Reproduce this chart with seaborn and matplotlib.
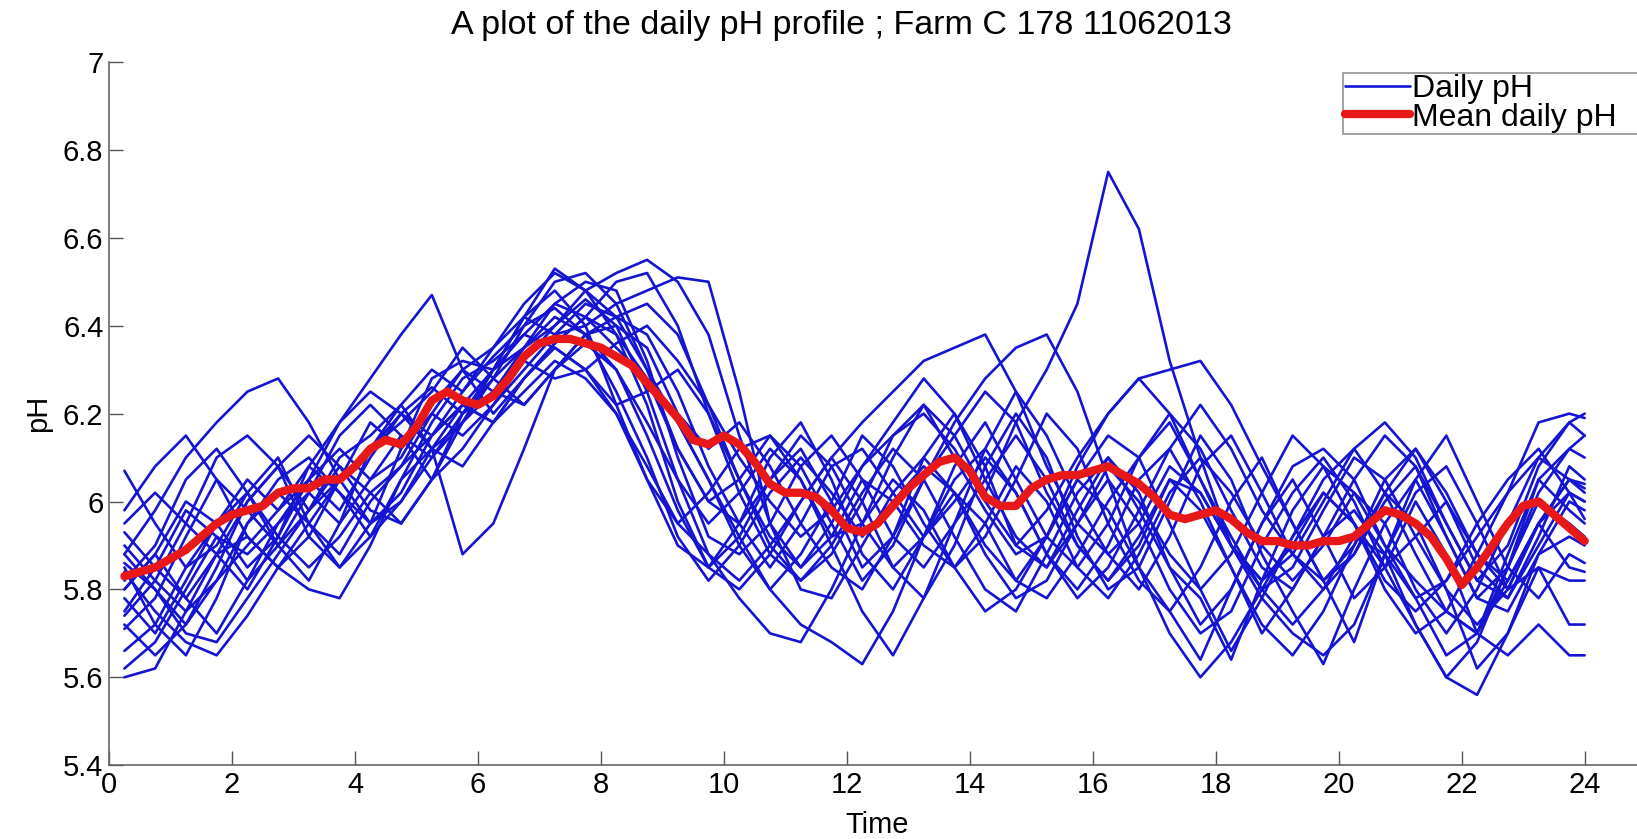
import numpy as np
import pandas as pd
import matplotlib
matplotlib.use("Agg")
import matplotlib.pyplot as plt
from matplotlib.lines import Line2D
import seaborn as sns

# Sampling grid of the daily records (hours)
hours = np.append(np.arange(0.25, 24.0, 0.5), 24.0)

# Daily pH records, one list per day
day01 = [5.60, 5.62, 5.75, 5.88, 5.80, 5.92, 6.05, 5.98, 6.10, 6.20, 6.15, 6.25, 6.33, 6.40, 6.44, 6.38, 6.30, 6.15, 5.98, 5.85, 5.92, 6.05, 6.12, 6.00, 5.85, 5.92, 6.10, 6.20, 6.08, 5.90, 5.85, 5.98, 6.10, 6.02, 5.85, 5.72, 5.80, 5.95, 6.05, 5.92, 5.78, 5.85, 6.00, 5.88, 5.70, 5.85, 6.05, 6.12, 6.10]
day02 = [6.07, 5.95, 5.85, 5.90, 6.02, 6.10, 5.95, 5.88, 6.00, 6.08, 6.20, 6.30, 6.25, 6.35, 6.45, 6.50, 6.48, 6.32, 6.10, 5.92, 5.88, 5.95, 6.08, 6.15, 6.05, 5.92, 5.85, 5.95, 6.12, 6.25, 6.15, 6.00, 5.88, 5.80, 5.92, 6.08, 6.15, 6.02, 5.88, 5.80, 5.88, 6.02, 6.12, 6.00, 5.85, 5.78, 5.92, 6.08, 6.05]
day03 = [5.85, 5.72, 5.65, 5.78, 5.95, 6.05, 6.10, 6.02, 5.95, 6.02, 6.15, 6.22, 6.18, 6.28, 6.36, 6.42, 6.50, 6.52, 6.40, 6.20, 6.02, 5.88, 5.82, 5.90, 6.02, 6.12, 6.05, 5.92, 5.80, 5.75, 5.88, 6.02, 6.10, 5.98, 5.85, 5.78, 5.64, 5.82, 5.98, 6.08, 6.02, 5.90, 5.78, 5.65, 5.70, 5.88, 6.05, 5.98, 5.95]
day04 = [5.74, 5.82, 5.95, 6.10, 6.15, 6.08, 5.92, 5.85, 5.95, 6.12, 6.20, 6.15, 6.22, 6.30, 6.38, 6.45, 6.42, 6.30, 6.18, 6.05, 5.92, 5.80, 5.88, 6.00, 6.15, 6.08, 5.95, 5.85, 5.92, 6.05, 6.20, 6.12, 5.95, 5.82, 5.75, 5.85, 6.00, 6.10, 5.95, 5.82, 5.68, 5.88, 6.05, 6.15, 6.00, 5.85, 5.78, 5.88, 5.86]
day05 = [5.82, 5.90, 6.05, 6.12, 6.02, 5.90, 5.82, 5.95, 6.12, 6.22, 6.30, 6.25, 6.35, 6.45, 6.52, 6.48, 6.38, 6.22, 6.00, 5.85, 5.80, 5.88, 6.00, 6.10, 6.00, 5.85, 5.78, 5.90, 6.08, 6.20, 6.10, 5.92, 5.80, 5.85, 6.00, 6.15, 6.05, 5.88, 5.75, 5.63, 5.80, 5.95, 6.05, 5.92, 5.78, 5.85, 6.02, 6.12, 6.15]
day06 = [5.88, 5.98, 6.10, 6.18, 6.25, 6.28, 6.18, 6.05, 5.95, 6.00, 6.10, 6.18, 6.25, 6.22, 6.30, 6.38, 6.40, 6.35, 6.20, 6.12, 6.18, 6.08, 5.95, 5.85, 5.80, 5.92, 6.05, 6.15, 6.25, 6.18, 6.02, 5.90, 5.82, 5.92, 6.05, 6.02, 5.90, 5.80, 5.85, 5.98, 6.10, 6.05, 5.92, 5.80, 5.72, 5.80, 5.95, 6.05, 6.02]
day07 = [5.95, 6.02, 5.95, 5.88, 5.92, 5.85, 5.80, 5.78, 5.90, 6.05, 6.18, 6.28, 6.32, 6.38, 6.35, 6.30, 6.22, 6.25, 6.30, 6.20, 6.05, 5.90, 5.82, 5.88, 6.00, 6.15, 6.22, 6.10, 5.98, 5.88, 5.92, 6.05, 6.15, 6.10, 5.95, 5.80, 5.66, 5.78, 5.92, 6.05, 6.12, 6.02, 5.88, 5.75, 5.70, 5.82, 5.95, 5.85, 5.84]
day08 = [5.78, 5.70, 5.82, 5.95, 6.05, 5.98, 6.05, 6.18, 6.28, 6.38, 6.47, 6.30, 6.20, 6.28, 6.35, 6.30, 6.20, 6.05, 5.90, 5.85, 5.95, 6.10, 6.18, 6.05, 5.88, 5.80, 5.92, 6.08, 6.18, 6.05, 5.92, 5.85, 5.95, 6.10, 6.20, 6.12, 5.98, 5.85, 5.80, 5.92, 6.05, 6.15, 6.08, 5.92, 5.78, 5.75, 5.88, 6.00, 5.98]
day09 = [5.71, 5.78, 5.92, 6.05, 5.98, 5.90, 5.98, 6.10, 6.15, 6.22, 6.12, 5.88, 5.95, 6.12, 6.30, 6.38, 6.42, 6.38, 6.25, 6.08, 5.95, 5.85, 5.95, 6.08, 6.12, 6.02, 5.92, 6.00, 6.10, 6.02, 5.88, 5.80, 5.90, 6.05, 6.12, 6.00, 5.85, 5.72, 5.65, 5.75, 5.90, 6.02, 5.95, 5.80, 5.62, 5.70, 5.88, 5.92, 5.90]
day10 = [5.80, 5.88, 5.78, 5.70, 5.82, 5.95, 6.02, 5.95, 6.05, 6.15, 6.10, 6.20, 6.28, 6.35, 6.40, 6.48, 6.52, 6.55, 6.50, 6.38, 6.15, 5.95, 5.80, 5.78, 5.90, 6.02, 6.10, 6.02, 5.88, 5.78, 5.82, 5.95, 6.05, 5.95, 5.80, 5.70, 5.75, 5.90, 6.02, 6.10, 6.00, 5.85, 5.72, 5.60, 5.68, 5.85, 6.00, 5.95, 5.92]
day11 = [5.62, 5.68, 5.80, 5.92, 5.88, 5.95, 6.05, 6.12, 6.05, 6.10, 6.22, 6.30, 6.35, 6.42, 6.38, 6.40, 6.45, 6.48, 6.51, 6.50, 6.25, 5.95, 5.85, 5.92, 6.05, 6.00, 5.90, 5.85, 5.95, 6.08, 6.00, 5.85, 5.78, 5.88, 6.02, 6.10, 6.02, 5.90, 5.82, 5.90, 6.02, 5.95, 5.80, 5.70, 5.80, 5.95, 6.10, 6.18, 6.20]
day12 = [5.98, 6.08, 6.15, 6.05, 5.92, 5.85, 5.92, 6.05, 6.12, 6.18, 6.25, 6.35, 6.28, 6.22, 6.30, 6.36, 6.30, 6.18, 6.05, 5.95, 6.02, 6.12, 6.05, 5.90, 5.75, 5.65, 5.78, 5.95, 6.05, 6.15, 6.05, 5.90, 5.82, 5.90, 6.05, 5.98, 5.85, 5.70, 5.80, 5.92, 5.98, 5.88, 5.78, 5.82, 5.95, 6.05, 6.12, 6.02, 6.00]
day13 = [5.86, 5.80, 5.70, 5.68, 5.78, 5.88, 5.98, 6.08, 6.02, 5.95, 6.05, 6.20, 6.30, 6.38, 6.45, 6.42, 6.35, 6.28, 6.18, 6.05, 5.90, 5.80, 5.72, 5.68, 5.63, 5.75, 5.92, 6.05, 6.12, 6.02, 5.88, 5.78, 5.85, 5.98, 6.12, 6.22, 6.12, 5.98, 5.88, 5.82, 5.90, 6.05, 6.12, 6.02, 5.88, 5.82, 5.95, 6.05, 6.04]
day14 = [5.75, 5.85, 5.98, 5.92, 5.82, 5.90, 6.02, 6.15, 6.22, 6.15, 6.05, 6.12, 6.22, 6.32, 6.40, 6.46, 6.40, 6.25, 6.05, 5.88, 5.82, 5.90, 6.00, 6.10, 6.18, 6.25, 6.32, 6.35, 6.38, 6.25, 6.08, 5.95, 5.88, 5.95, 6.08, 6.02, 5.90, 5.82, 5.88, 6.00, 6.12, 6.18, 6.10, 5.95, 5.82, 5.78, 5.90, 6.02, 5.96]
day15 = [5.90, 5.82, 5.75, 5.82, 5.95, 6.02, 5.95, 5.85, 5.92, 6.05, 6.12, 6.22, 6.18, 6.28, 6.36, 6.42, 6.38, 6.28, 6.12, 6.00, 6.05, 6.15, 6.08, 5.95, 5.82, 5.90, 6.05, 6.18, 6.28, 6.35, 6.38, 6.25, 6.05, 5.85, 5.70, 5.60, 5.68, 5.80, 5.92, 6.02, 5.95, 5.80, 5.70, 5.75, 5.88, 6.02, 6.10, 6.05, 6.03]
day16 = [5.93, 5.85, 5.78, 5.88, 6.00, 6.08, 6.15, 6.08, 5.98, 5.95, 6.05, 6.18, 6.28, 6.40, 6.50, 6.52, 6.45, 6.30, 6.12, 6.00, 5.95, 6.05, 6.15, 6.08, 5.95, 5.85, 5.92, 6.02, 5.95, 5.82, 5.78, 5.88, 6.00, 6.10, 6.18, 6.05, 5.92, 5.80, 5.72, 5.80, 5.92, 5.88, 5.72, 5.60, 5.56, 5.70, 5.85, 5.72, 5.72]
day17 = [5.84, 5.75, 5.68, 5.65, 5.74, 5.85, 5.95, 6.05, 6.12, 6.20, 6.26, 6.20, 6.25, 6.32, 6.28, 6.30, 6.36, 6.40, 6.32, 6.22, 6.10, 6.00, 5.92, 5.98, 6.08, 6.15, 6.20, 6.12, 6.00, 5.90, 5.98, 6.10, 6.20, 6.28, 6.20, 6.05, 5.90, 5.78, 5.70, 5.65, 5.72, 5.88, 6.02, 6.08, 5.95, 5.80, 5.85, 5.82, 5.82]
day18 = [5.66, 5.72, 5.85, 5.95, 6.02, 5.92, 5.85, 5.92, 6.02, 6.08, 6.15, 6.22, 6.30, 6.35, 6.42, 6.38, 6.25, 6.10, 5.92, 5.82, 5.90, 6.02, 6.10, 6.02, 5.92, 6.00, 6.08, 6.02, 5.90, 5.82, 5.92, 6.08, 6.20, 6.28, 6.30, 6.32, 6.22, 6.08, 5.95, 5.82, 5.88, 6.00, 6.08, 5.95, 5.82, 5.90, 6.08, 6.18, 6.15]
day19 = [5.72, 5.65, 5.72, 5.82, 5.90, 5.98, 6.08, 6.02, 5.92, 6.00, 6.12, 6.08, 6.18, 6.25, 6.32, 6.28, 6.20, 6.08, 5.95, 5.88, 5.78, 5.70, 5.68, 5.80, 5.95, 6.05, 5.98, 5.85, 5.75, 5.80, 5.92, 6.05, 5.98, 5.85, 5.75, 5.64, 5.80, 5.95, 6.08, 6.12, 6.05, 5.90, 5.82, 5.75, 5.70, 5.65, 5.72, 5.65, 5.65]
day20 = [5.80, 5.88, 6.00, 5.95, 5.85, 5.92, 6.08, 6.18, 6.25, 6.20, 6.12, 6.18, 6.30, 6.42, 6.53, 6.48, 6.42, 6.45, 6.38, 6.22, 6.05, 5.92, 5.85, 5.95, 6.08, 6.18, 6.28, 6.20, 6.05, 5.92, 5.85, 5.95, 6.08, 6.00, 5.88, 5.80, 5.88, 6.02, 6.15, 6.08, 5.95, 5.82, 5.75, 5.82, 5.92, 6.02, 6.18, 6.20, 6.19]
day21 = [5.88, 5.80, 5.72, 5.85, 6.00, 6.08, 5.98, 6.05, 6.18, 6.12, 6.28, 6.32, 6.30, 6.42, 6.48, 6.40, 6.22, 6.05, 5.95, 6.02, 6.12, 6.15, 6.05, 5.92, 5.95, 6.10, 6.22, 6.15, 6.02, 6.18, 6.30, 6.45, 6.75, 6.62, 6.32, 6.10, 5.90, 5.82, 5.90, 6.02, 5.95, 5.85, 5.92, 6.00, 5.88, 5.80, 5.95, 6.02, 6.00]

daily_records = [day01, day02, day03, day04, day05, day06, day07, day08, day09, day10,
                 day11, day12, day13, day14, day15, day16, day17, day18, day19, day20, day21]

# Smoothed mean daily profile
mean_hours = np.arange(0.25, 24.01, 0.25)
mean_ph = [5.83, 5.84, 5.85, 5.87, 5.89, 5.92, 5.95, 5.97, 5.98, 5.99, 6.02, 6.03,
           6.03, 6.05, 6.05, 6.08, 6.12, 6.14, 6.13, 6.17, 6.23, 6.25, 6.23, 6.22,
           6.24, 6.28, 6.33, 6.36, 6.37, 6.37, 6.36, 6.35, 6.33, 6.31, 6.27, 6.23,
           6.19, 6.14, 6.13, 6.15, 6.13, 6.09, 6.04, 6.02, 6.02, 6.01, 5.98, 5.94,
           5.93, 5.95, 5.99, 6.03, 6.06, 6.09, 6.10, 6.07, 6.01, 5.99, 5.99, 6.03,
           6.05, 6.06, 6.06, 6.07, 6.08, 6.06, 6.04, 6.01, 5.97, 5.96, 5.97, 5.98,
           5.96, 5.93, 5.91, 5.91, 5.90, 5.90, 5.91, 5.91, 5.92, 5.95, 5.98, 5.97,
           5.95, 5.92, 5.87, 5.81, 5.85, 5.90, 5.95, 5.99, 6.00, 5.97, 5.94, 5.91]

# Axis ticks
x_ticks = list(range(0, 25, 2))
y_ticks = [5.4, 5.6, 5.8, 6.0, 6.2, 6.4, 6.6, 6.8, 7.0]
y_tick_labels = ["5.4", "5.6", "5.8", "6", "6.2", "6.4", "6.6", "6.8", "7"]

title_text = "A plot of the daily pH profile ; Farm C 178 11062013"

daily_df = pd.concat(
    [pd.DataFrame({"Time": hours, "pH": vals, "day": i}) for i, vals in enumerate(daily_records)],
    ignore_index=True,
)
mean_df = pd.DataFrame({"Time": mean_hours, "pH": mean_ph})

sns.set_style("ticks")
plt.rcParams["font.family"] = ["Liberation Sans", "DejaVu Sans"]
plt.rcParams["text.color"] = "black"
plt.rcParams["axes.labelcolor"] = "black"

BLUE = "#1414d2"
RED = "#e81818"

fig = plt.figure(figsize=(16.37, 8.39), dpi=100)
ax = fig.add_axes([0.0666, 0.088, 0.939, 0.838])

sns.lineplot(data=daily_df, x="Time", y="pH", units="day", estimator=None,
             color=BLUE, linewidth=1.9, ax=ax, legend=False)
sns.lineplot(data=mean_df, x="Time", y="pH", color=RED, linewidth=6,
             ax=ax, legend=False)

ax.set_xlim(0, 25)
ax.set_ylim(5.4, 7.0)
ax.set_xticks(x_ticks)
ax.set_xticklabels([str(t) for t in x_ticks])
ax.set_yticks(y_ticks)
ax.set_yticklabels(y_tick_labels)
ax.tick_params(direction="in", length=10, width=1, colors="#555555",
               labelcolor="black", labelsize=21, pad=4)

for side in ("top", "right"):
    ax.spines[side].set_visible(False)
for side in ("left", "bottom"):
    ax.spines[side].set_color("#666666")
    ax.spines[side].set_linewidth(1.2)

ax.set_xlabel("Time", fontsize=21, labelpad=9, color="black")
ax.set_ylabel("pH", fontsize=21, labelpad=8, color="black")
ax.set_title(title_text, fontsize=24.5, pad=20, x=0.4765, color="black")

# Legend box runs on past the right edge of the canvas
handles = [Line2D([], [], color=BLUE, linewidth=1.9),
           Line2D([], [], color=RED, linewidth=6)]
leg = ax.legend(handles, ["Daily pH", "Mean daily pH"], loc="upper left",
                bbox_to_anchor=(0.803, 0.985, 0.21, 0.0), mode="expand",
                fontsize=23, frameon=True,
                fancybox=False, edgecolor="#777777", handlelength=2.05,
                handletextpad=0.06, borderpad=0.05, labelspacing=-0.05,
                borderaxespad=0)
leg.get_frame().set_linewidth(1.2)
for txt in leg.get_texts():
    txt.set_color("black")

fig.savefig("out.png", dpi=100)
